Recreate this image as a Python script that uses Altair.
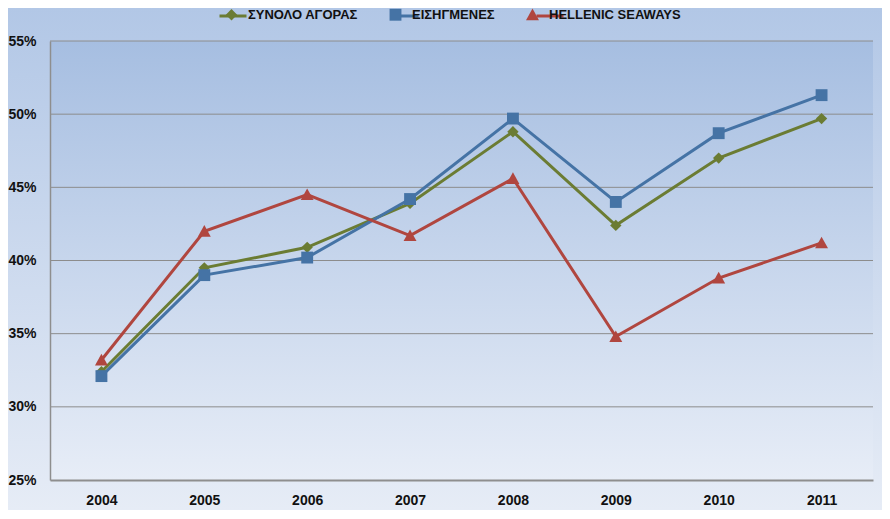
import altair as alt
import pandas as pd

years = ["2004", "2005", "2006", "2007", "2008", "2009", "2010", "2011"]
series_names = ["ΣΥΝΟΛΟ ΑΓΟΡΑΣ", "ΕΙΣΗΓΜΕΝΕΣ", "HELLENIC SEAWAYS"]
synolo = [32.4, 39.5, 40.9, 43.9, 48.8, 42.4, 47.0, 49.7]
eisigmenes = [32.1, 39.0, 40.2, 44.2, 49.7, 44.0, 48.7, 51.3]
hellenic = [33.2, 42.0, 44.5, 41.7, 45.6, 34.8, 38.8, 41.2]
grid_values = [0.30, 0.35, 0.40, 0.45, 0.50, 0.55]
y_ticks = [0.25, 0.30, 0.35, 0.40, 0.45, 0.50, 0.55]

colors = ["#6B7C33", "#4573A5", "#B0463F"]
shapes = [
    "M0,-0.42L0.42,0L0,0.42L-0.42,0Z",
    "M-0.44,-0.44H0.44V0.44H-0.44Z",
    "M0,-0.46L0.48,0.4H-0.48Z",
]

rows = []
for name, vals in zip(series_names, [synolo, eisigmenes, hellenic]):
    for yr, v in zip(years, vals):
        rows.append({"year": yr, "value": v / 100.0, "series": name, "series_l": name})
df = pd.DataFrame(rows)

W, H = 823, 439
PL, PT, PR, PB = 42, 33, 9, 30

one = pd.DataFrame({"a": [0]})

outer_bg = alt.Chart(one).mark_rect(
    fill=alt.Gradient(gradient="linear", x1=0, x2=0, y1=0, y2=1,
                      stops=[alt.GradientStop(offset=0, color="#B2C7E6"),
                             alt.GradientStop(offset=1, color="#E6ECF6")])
).encode(x=alt.value(-PL), x2=alt.value(W + PR), y=alt.value(-PT), y2=alt.value(H + PB))

plot_bg = alt.Chart(one).mark_rect(
    fill=alt.Gradient(gradient="linear", x1=0, x2=0, y1=0, y2=1,
                      stops=[alt.GradientStop(offset=0, color="#A6BEE1"),
                             alt.GradientStop(offset=1, color="#E7EDF7")])
).encode(x=alt.value(0), x2=alt.value(W), y=alt.value(0), y2=alt.value(H))

grid = alt.Chart(pd.DataFrame({"g": grid_values})).mark_rule(
    color="#8C8C8C", strokeWidth=1
).encode(y=alt.Y("g:Q", scale=alt.Scale(domain=[0.25, 0.55])))

xenc = alt.X("year:O", sort=years, title=None,
             axis=alt.Axis(labelAngle=0, ticks=False, domain=True, domainColor="#8E8E8E",
                           domainWidth=2, labelFont="Liberation Sans", labelFontWeight="bold",
                           labelFontSize=14, labelColor="#111111", labelPadding=13, zindex=1))
yenc = alt.Y("value:Q", title=None,
             scale=alt.Scale(domain=[0.25, 0.55], nice=False, zero=False),
             axis=alt.Axis(values=y_ticks, format=".0%", ticks=False, tickSize=0, grid=False,
                           domainColor="#8E8E8E", domainWidth=1.5,
                           labelFont="Liberation Sans", labelFontWeight="bold",
                           labelFontSize=14, labelColor="#111111", labelPadding=14, zindex=1))

legend_common = dict(orient="none", direction="horizontal", legendX=168, legendY=-40,
                     title=None, columns=3, columnPadding=24, labelFont="Liberation Sans",
                     labelFontWeight="bold", labelFontSize=13, labelColor="#111111",
                     symbolSize=729, labelOffset=3)

line_legend = alt.Legend(symbolType="stroke", symbolStrokeWidth=3, labelOpacity=0,
                         zindex=1, **legend_common)
marker_legend = alt.Legend(symbolStrokeWidth=0, zindex=2, **legend_common)

lines = alt.Chart(df).mark_line(strokeWidth=3).encode(
    x=xenc, y=yenc,
    stroke=alt.Stroke("series_l:N", sort=series_names, scale=alt.Scale(range=colors),
                      legend=line_legend),
    detail="series_l:N",
)

points = alt.Chart(df).mark_point(filled=True, opacity=1, size=729, strokeWidth=0).encode(
    x=alt.X("year:O", sort=years),
    y=alt.Y("value:Q"),
    fill=alt.Fill("series:N", scale=alt.Scale(domain=series_names, range=colors),
                  legend=marker_legend),
    shape=alt.Shape("series:N", scale=alt.Scale(domain=series_names, range=shapes),
                    legend=marker_legend),
)

chart = alt.layer(outer_bg, plot_bg, grid, lines, points).properties(
    width=W, height=H,
    autosize=alt.AutoSizeParams(type="none"),
    padding={"left": PL, "top": PT, "right": PR, "bottom": PB},
    background="#C8D6EE",
).configure_view(stroke=None)

chart.save("out.html", embed_options={"renderer": "svg", "actions": False})
